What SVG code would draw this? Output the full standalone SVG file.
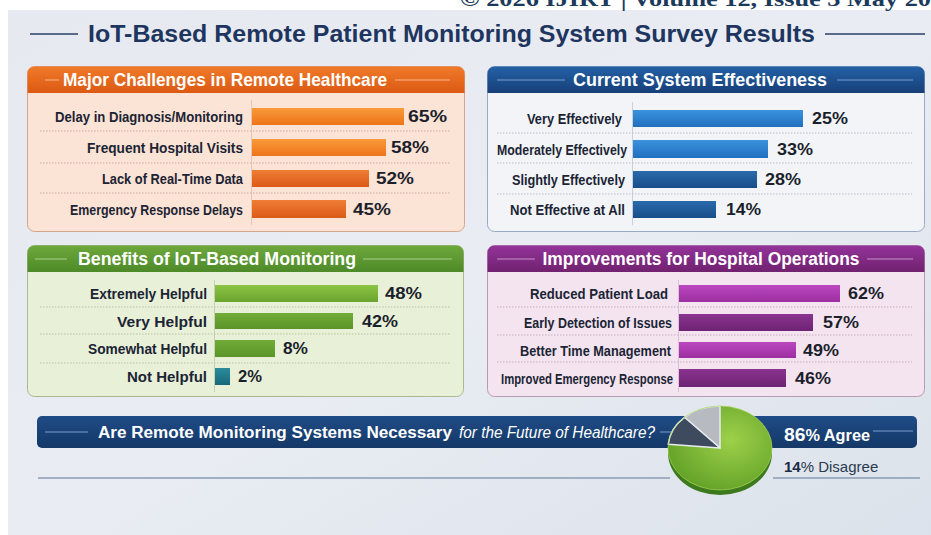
<svg xmlns="http://www.w3.org/2000/svg" width="931" height="535" viewBox="0 0 931 535">
<defs>
<linearGradient id="bg" x1="0" y1="0" x2="1" y2="1">
<stop offset="0" stop-color="#e6eaf0"/><stop offset="0.5" stop-color="#e9edf3"/><stop offset="1" stop-color="#dce2eb"/>
</linearGradient>
<linearGradient id="hOr" x1="0" y1="0" x2="0" y2="1"><stop offset="0" stop-color="#f07a2a"/><stop offset="1" stop-color="#dc5912"/></linearGradient>
<linearGradient id="hBl" x1="0" y1="0" x2="0" y2="1"><stop offset="0" stop-color="#2461a6"/><stop offset="1" stop-color="#163f78"/></linearGradient>
<linearGradient id="hGr" x1="0" y1="0" x2="0" y2="1"><stop offset="0" stop-color="#6ea83c"/><stop offset="1" stop-color="#4d8a28"/></linearGradient>
<linearGradient id="hPu" x1="0" y1="0" x2="0" y2="1"><stop offset="0" stop-color="#93339a"/><stop offset="1" stop-color="#71226f"/></linearGradient>
<linearGradient id="hNv" x1="0" y1="0" x2="0" y2="1"><stop offset="0" stop-color="#1f4c86"/><stop offset="1" stop-color="#143867"/></linearGradient>
<linearGradient id="bOr1" x1="0" y1="0" x2="0" y2="1"><stop offset="0" stop-color="#f99a3a"/><stop offset="1" stop-color="#ee7418"/></linearGradient>
<linearGradient id="bOr2" x1="0" y1="0" x2="0" y2="1"><stop offset="0" stop-color="#ef7d35"/><stop offset="1" stop-color="#dc5a16"/></linearGradient>
<linearGradient id="bBl1" x1="0" y1="0" x2="0" y2="1"><stop offset="0" stop-color="#3b92dc"/><stop offset="1" stop-color="#1f6fbf"/></linearGradient>
<linearGradient id="bBl2" x1="0" y1="0" x2="0" y2="1"><stop offset="0" stop-color="#2a6aab"/><stop offset="1" stop-color="#184e8a"/></linearGradient>
<linearGradient id="bGr1" x1="0" y1="0" x2="0" y2="1"><stop offset="0" stop-color="#8cc444"/><stop offset="1" stop-color="#6aa42e"/></linearGradient>
<linearGradient id="bGr2" x1="0" y1="0" x2="0" y2="1"><stop offset="0" stop-color="#72ac38"/><stop offset="1" stop-color="#5a9428"/></linearGradient>
<linearGradient id="bTe" x1="0" y1="0" x2="0" y2="1"><stop offset="0" stop-color="#2a8c9c"/><stop offset="1" stop-color="#17697a"/></linearGradient>
<linearGradient id="bPu1" x1="0" y1="0" x2="0" y2="1"><stop offset="0" stop-color="#bb47bf"/><stop offset="1" stop-color="#9c2fa1"/></linearGradient>
<linearGradient id="bPu2" x1="0" y1="0" x2="0" y2="1"><stop offset="0" stop-color="#8a3490"/><stop offset="1" stop-color="#6e2374"/></linearGradient>
<radialGradient id="pieG" cx="0.6" cy="0.4" r="0.7"><stop offset="0" stop-color="#9ed04a"/><stop offset="1" stop-color="#5e9f25"/></radialGradient>
</defs>
<style>
.lbl{font-family:"Liberation Sans",Arial,sans-serif;font-weight:bold;font-size:15px;fill:#1b2434;text-anchor:end}
.val{font-family:"Liberation Sans",Arial,sans-serif;font-weight:bold;font-size:17px;fill:#1b1f2b}
.hdr{font-family:"Liberation Sans",Arial,sans-serif;font-weight:bold;font-size:18px;fill:#ffffff;text-anchor:middle}
.sep{stroke-width:1;stroke-dasharray:1.5 1.5}
.hl{stroke-width:1}
</style>
<rect x="0" y="0" width="931" height="535" fill="#ffffff"/>
<rect x="8" y="10" width="923" height="525" fill="url(#bg)"/>
<text x="460" y="6" font-family="'Liberation Serif',serif" font-weight="bold" font-size="22" fill="#1b3a5c" textLength="471" lengthAdjust="spacingAndGlyphs">© 2026 IJIRT | Volume 12, Issue 3 May 20</text>

<g id="title">
<line x1="30" y1="34" x2="78" y2="34" stroke="#2a3f66" stroke-width="1.5"/>
<line x1="825" y1="34" x2="925" y2="34" stroke="#2a3f66" stroke-width="1.5"/>
<text x="88" y="42" font-family="'Liberation Sans',Arial,sans-serif" font-weight="bold" font-size="24" fill="#1e3560" textLength="727" lengthAdjust="spacingAndGlyphs">IoT-Based Remote Patient Monitoring System Survey Results</text>
</g>

<g id="panel-challenges">
<rect x="27.5" y="66.5" width="437" height="165" rx="7" fill="#fbe3d5" stroke="#d8a48c"/>
<path d="M27.5 93 V73.5 a7 7 0 0 1 7 -7 H457.5 a7 7 0 0 1 7 7 V93 Z" fill="url(#hOr)"/>
<line x1="45" y1="80" x2="59" y2="80" stroke="#f6b48a" class="hl"/>
<line x1="395" y1="80" x2="450" y2="80" stroke="#f6b48a" class="hl"/>
<text class="hdr" x="225" y="86" textLength="324" lengthAdjust="spacingAndGlyphs">Major Challenges in Remote Healthcare</text>
<line x1="251.5" y1="100" x2="251.5" y2="225" stroke="#e2c6b6"/>
<line x1="40" y1="131" x2="450" y2="131" stroke="#c9ad9f" class="sep"/>
<line x1="40" y1="163" x2="450" y2="163" stroke="#c9ad9f" class="sep"/>
<line x1="40" y1="193" x2="450" y2="193" stroke="#c9ad9f" class="sep"/>
<g id="c1"><rect x="252" y="108" width="152" height="17" fill="url(#bOr1)"/><text class="lbl" x="243" y="122" textLength="188" lengthAdjust="spacingAndGlyphs">Delay in Diagnosis/Monitoring</text><text class="val" x="408" y="122" textLength="39" lengthAdjust="spacingAndGlyphs">65%</text></g>
<g id="c2"><rect x="252" y="139" width="134" height="17" fill="url(#bOr1)"/><text class="lbl" x="243" y="153" textLength="156" lengthAdjust="spacingAndGlyphs">Frequent Hospital Visits</text><text class="val" x="391" y="153" textLength="38" lengthAdjust="spacingAndGlyphs">58%</text></g>
<g id="c3"><rect x="252" y="170" width="117" height="17" fill="url(#bOr2)"/><text class="lbl" x="243" y="184" textLength="141" lengthAdjust="spacingAndGlyphs">Lack of Real-Time Data</text><text class="val" x="376" y="184" textLength="38" lengthAdjust="spacingAndGlyphs">52%</text></g>
<g id="c4"><rect x="252" y="200" width="94" height="18" fill="url(#bOr2)"/><text class="lbl" x="243" y="215" textLength="173" lengthAdjust="spacingAndGlyphs">Emergency Response Delays</text><text class="val" x="353" y="215" textLength="38" lengthAdjust="spacingAndGlyphs">45%</text></g>
</g>

<g id="panel-effectiveness">
<rect x="487.5" y="66.5" width="437" height="165" rx="7" fill="#f2f4f8" stroke="#9aaac0"/>
<path d="M487.5 93 V73.5 a7 7 0 0 1 7 -7 H917.5 a7 7 0 0 1 7 7 V93 Z" fill="url(#hBl)"/>
<line x1="497" y1="80" x2="565" y2="80" stroke="#7a9ccb" class="hl"/>
<line x1="837" y1="80" x2="913" y2="80" stroke="#7a9ccb" class="hl"/>
<text class="hdr" x="700" y="86" textLength="254" lengthAdjust="spacingAndGlyphs">Current System Effectiveness</text>
<line x1="632.5" y1="102" x2="632.5" y2="225" stroke="#c8d0dc"/>
<line x1="497" y1="133" x2="912" y2="133" stroke="#b5bfcc" class="sep"/>
<line x1="497" y1="163" x2="912" y2="163" stroke="#b5bfcc" class="sep"/>
<line x1="497" y1="194" x2="912" y2="194" stroke="#b5bfcc" class="sep"/>
<g id="e1"><rect x="633" y="110" width="170" height="17" fill="url(#bBl1)"/><text class="lbl" x="622" y="124" textLength="95" lengthAdjust="spacingAndGlyphs">Very Effectively</text><text class="val" x="812" y="124" textLength="36" lengthAdjust="spacingAndGlyphs">25%</text></g>
<g id="e2"><rect x="633" y="140" width="135" height="18" fill="url(#bBl1)"/><text class="lbl" x="627" y="155" textLength="130" lengthAdjust="spacingAndGlyphs">Moderately Effectively</text><text class="val" x="777" y="155" textLength="36" lengthAdjust="spacingAndGlyphs">33%</text></g>
<g id="e3"><rect x="633" y="171" width="124" height="17" fill="url(#bBl2)"/><text class="lbl" x="625" y="185" textLength="113" lengthAdjust="spacingAndGlyphs">Slightly Effectively</text><text class="val" x="765" y="185" textLength="36" lengthAdjust="spacingAndGlyphs">28%</text></g>
<g id="e4"><rect x="633" y="201" width="83" height="17" fill="url(#bBl2)"/><text class="lbl" x="625" y="215" textLength="115" lengthAdjust="spacingAndGlyphs">Not Effective at All</text><text class="val" x="726" y="215" textLength="35" lengthAdjust="spacingAndGlyphs">14%</text></g>
</g>

<g id="panel-benefits">
<rect x="27.5" y="245.5" width="436" height="151" rx="7" fill="#e9f0d8" stroke="#a9b98f"/>
<path d="M27.5 272 V252.5 a7 7 0 0 1 7 -7 H456.5 a7 7 0 0 1 7 7 V272 Z" fill="url(#hGr)"/>
<line x1="35" y1="259" x2="67" y2="259" stroke="#a9d08a" class="hl"/>
<line x1="363" y1="259" x2="452" y2="259" stroke="#a9d08a" class="hl"/>
<text class="hdr" x="217" y="265" textLength="278" lengthAdjust="spacingAndGlyphs">Benefits of IoT-Based Monitoring</text>
<line x1="214.5" y1="280" x2="214.5" y2="392" stroke="#c5d1b2"/>
<line x1="40" y1="307" x2="450" y2="307" stroke="#b5c3a0" class="sep"/>
<line x1="40" y1="334" x2="450" y2="334" stroke="#b5c3a0" class="sep"/>
<line x1="40" y1="363" x2="450" y2="363" stroke="#b5c3a0" class="sep"/>
<g id="b1"><rect x="215" y="285" width="163" height="17" fill="url(#bGr1)"/><text class="lbl" x="207" y="299" textLength="117" lengthAdjust="spacingAndGlyphs">Extremely Helpful</text><text class="val" x="385" y="299" textLength="37" lengthAdjust="spacingAndGlyphs">48%</text></g>
<g id="b2"><rect x="215" y="313" width="138" height="16" fill="url(#bGr2)"/><text class="lbl" x="207" y="327" textLength="90" lengthAdjust="spacingAndGlyphs">Very Helpful</text><text class="val" x="362" y="327" textLength="36" lengthAdjust="spacingAndGlyphs">42%</text></g>
<g id="b3"><rect x="215" y="340" width="60" height="17" fill="url(#bGr2)"/><text class="lbl" x="207" y="354" textLength="119" lengthAdjust="spacingAndGlyphs">Somewhat Helpful</text><text class="val" x="283" y="354" textLength="25" lengthAdjust="spacingAndGlyphs">8%</text></g>
<g id="b4"><rect x="215" y="368" width="15" height="17" fill="url(#bTe)"/><text class="lbl" x="207" y="382" textLength="80" lengthAdjust="spacingAndGlyphs">Not Helpful</text><text class="val" x="238" y="382" textLength="24" lengthAdjust="spacingAndGlyphs">2%</text></g>
</g>

<g id="panel-improvements">
<rect x="487.5" y="245.5" width="437" height="151" rx="7" fill="#f3e4f0" stroke="#b99ab5"/>
<path d="M487.5 272 V252.5 a7 7 0 0 1 7 -7 H917.5 a7 7 0 0 1 7 7 V272 Z" fill="url(#hPu)"/>
<line x1="497" y1="259" x2="535" y2="259" stroke="#c790ca" class="hl"/>
<line x1="867" y1="259" x2="913" y2="259" stroke="#c790ca" class="hl"/>
<text class="hdr" x="701" y="265" textLength="317" lengthAdjust="spacingAndGlyphs">Improvements for Hospital Operations</text>
<line x1="678.5" y1="280" x2="678.5" y2="392" stroke="#d8c2d4"/>
<line x1="497" y1="307" x2="912" y2="307" stroke="#c4adc0" class="sep"/>
<line x1="497" y1="335" x2="912" y2="335" stroke="#c4adc0" class="sep"/>
<line x1="497" y1="362" x2="912" y2="362" stroke="#c4adc0" class="sep"/>
<g id="i1"><rect x="679" y="285" width="161" height="17" fill="url(#bPu1)"/><text class="lbl" x="668" y="299" textLength="138" lengthAdjust="spacingAndGlyphs">Reduced Patient Load</text><text class="val" x="848" y="299" textLength="36" lengthAdjust="spacingAndGlyphs">62%</text></g>
<g id="i2"><rect x="679" y="314" width="134" height="17" fill="url(#bPu2)"/><text class="lbl" x="672" y="328" textLength="148" lengthAdjust="spacingAndGlyphs">Early Detection of Issues</text><text class="val" x="823" y="328" textLength="36" lengthAdjust="spacingAndGlyphs">57%</text></g>
<g id="i3"><rect x="679" y="342" width="117" height="16" fill="url(#bPu1)"/><text class="lbl" x="671" y="356" textLength="151" lengthAdjust="spacingAndGlyphs">Better Time Management</text><text class="val" x="803" y="356" textLength="36" lengthAdjust="spacingAndGlyphs">49%</text></g>
<g id="i4"><rect x="679" y="369" width="107" height="18" fill="url(#bPu2)"/><text class="lbl" x="673" y="384" textLength="172" lengthAdjust="spacingAndGlyphs">Improved Emergency Response</text><text class="val" x="795" y="384" textLength="36" lengthAdjust="spacingAndGlyphs">46%</text></g>
</g>

<g id="question">
<rect x="37" y="416" width="880" height="32" rx="5" fill="url(#hNv)"/>
<line x1="45" y1="432" x2="88" y2="432" stroke="#7a9ccb" stroke-width="1"/>
<line x1="660" y1="432" x2="680" y2="432" stroke="#7a9ccb" stroke-width="1"/>
<line x1="873" y1="431" x2="913" y2="431" stroke="#7a9ccb" stroke-width="1"/>
<text x="98" y="438" font-family="'Liberation Sans',Arial,sans-serif" font-weight="bold" font-size="16" fill="#ffffff" textLength="354" lengthAdjust="spacingAndGlyphs">Are Remote Monitoring Systems Necessary</text>
<text x="459" y="438" font-family="'Liberation Sans',Arial,sans-serif" font-style="italic" font-size="16" fill="#ffffff" textLength="196" lengthAdjust="spacingAndGlyphs">for the Future of Healthcare?</text>
<line x1="38" y1="478" x2="670" y2="478" stroke="#8a9bb3" stroke-width="1.5"/>
<line x1="773" y1="478" x2="920" y2="478" stroke="#8a9bb3" stroke-width="1.5"/>
</g>

<g id="pie">
<ellipse cx="720" cy="453" rx="52" ry="42" fill="#3d7a1c"/>
<ellipse cx="720" cy="448" rx="52" ry="42" fill="url(#pieG)"/>
<path d="M720 448 L720 406 A52 42 0 0 0 684.5 417.3 Z" fill="#b7bbc1" stroke="#e8ecef" stroke-width="1.5" stroke-linejoin="round"/>
<path d="M720 448 L684.5 417.3 A52 42 0 0 0 668.2 444.3 Z" fill="#3e4a5e" stroke="#e8ecef" stroke-width="1.5" stroke-linejoin="round"/>
<ellipse cx="720" cy="448" rx="52" ry="42" fill="none" stroke="#a6d45a" stroke-width="1" opacity="0.7"/>
</g>

<g id="result">
<text x="784" y="441" font-family="'Liberation Sans',Arial,sans-serif" font-weight="bold" fill="#ffffff" textLength="86" lengthAdjust="spacingAndGlyphs"><tspan font-size="19">86</tspan><tspan font-size="16">% Agree</tspan></text>
<text x="784" y="472" font-family="'Liberation Sans',Arial,sans-serif" fill="#2a3a50"><tspan font-size="15" font-weight="bold" fill="#1b2b45">14</tspan><tspan font-size="15">% Disagree</tspan></text>
</g>
</svg>
